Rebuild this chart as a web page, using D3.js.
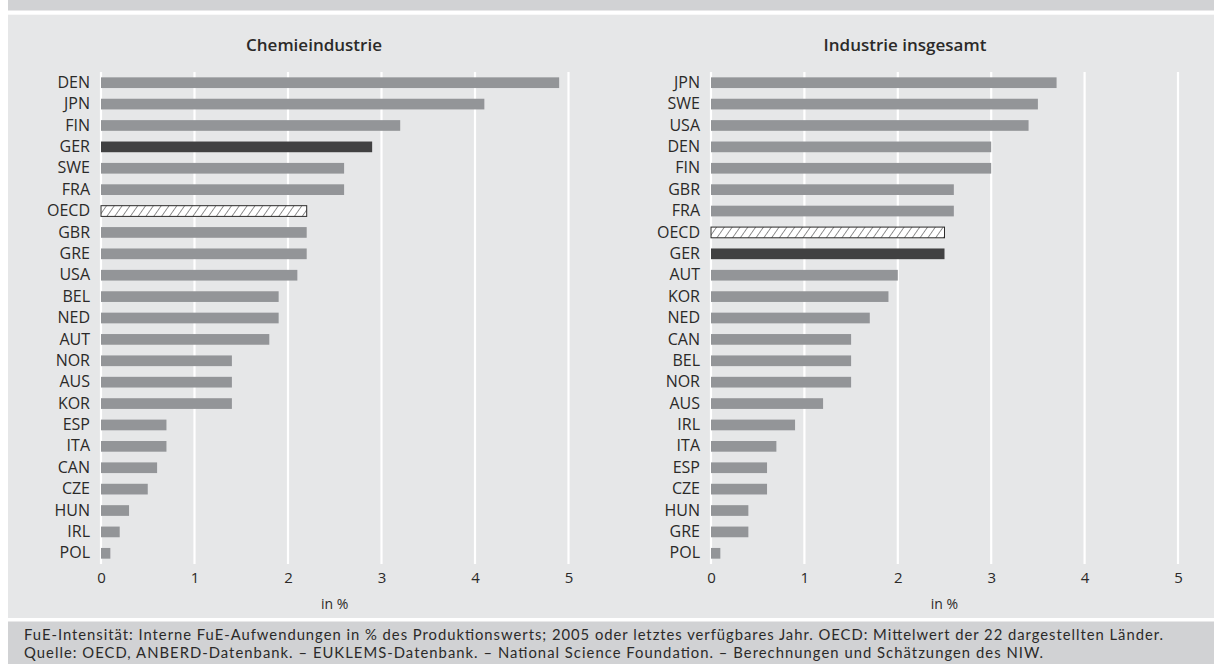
<!DOCTYPE html>
<html>
<head>
<meta charset="utf-8">
<script src="https://cdn.jsdelivr.net/npm/d3@7"></script>
<style>
  body { margin: 0; background: #fff; }
  svg { display: block; font-family: "Open Sans", sans-serif; }
</style>
</head>
<body>
<svg id="chart" width="1214" height="664"></svg>
<script>
const chemCountries = ["DEN", "JPN", "FIN", "GER", "SWE", "FRA", "OECD", "GBR", "GRE", "USA", "BEL", "NED",
  "AUT", "NOR", "AUS", "KOR", "ESP", "ITA", "CAN", "CZE", "HUN", "IRL", "POL"];
const chemValues = [4.9, 4.1, 3.2, 2.9, 2.6, 2.6, 2.2, 2.2, 2.2, 2.1, 1.9, 1.9,
  1.8, 1.4, 1.4, 1.4, 0.7, 0.7, 0.6, 0.5, 0.3, 0.2, 0.1];

const indCountries = ["JPN", "SWE", "USA", "DEN", "FIN", "GBR", "FRA", "OECD", "GER", "AUT", "KOR", "NED",
  "CAN", "BEL", "NOR", "AUS", "IRL", "ITA", "ESP", "CZE", "HUN", "GRE", "POL"];
const indValues = [3.7, 3.5, 3.4, 3.0, 3.0, 2.6, 2.6, 2.5, 2.5, 2.0, 1.9, 1.7,
  1.5, 1.5, 1.5, 1.2, 0.9, 0.7, 0.6, 0.6, 0.4, 0.4, 0.1];

const xTicks = [0, 1, 2, 3, 4, 5];
const titles = ["Chemieindustrie", "Industrie insgesamt"];
const axisTitle = "in %";
const footnotes = [
  "FuE-Intensität: Interne FuE-Aufwendungen in % des Produktionswerts; 2005 oder letztes verfügbares Jahr. OECD: Mittelwert der 22 dargestellten Länder.",
  "Quelle: OECD, ANBERD-Datenbank. – EUKLEMS-Datenbank. – National Science Foundation. – Berechnungen und Schätzungen des NIW."
];
const footWidths = [1139, 1019];

const svg = d3.select("#chart");
const textColor = "#2b2a29";

// background bands
svg.append("rect").attr("x", 8).attr("y", 0).attr("width", 1206).attr("height", 10.5).attr("fill", "#d1d2d4");
svg.append("rect").attr("x", 8).attr("y", 14.7).attr("width", 1206).attr("height", 603.3).attr("fill", "#e6e7e8");
svg.append("rect").attr("x", 8).attr("y", 621.5).attr("width", 1206).attr("height", 42.5).attr("fill", "#d1d2d4");

// hatch for OECD
const defs = svg.append("defs");
const pat = defs.append("pattern")
  .attr("id", "hatch")
  .attr("patternUnits", "userSpaceOnUse")
  .attr("width", 6.4).attr("height", 6.4)
  .attr("patternTransform", "rotate(35)");
pat.append("rect").attr("width", 6.4).attr("height", 6.4).attr("fill", "#fff");
pat.append("line").attr("x1", 0).attr("y1", 0).attr("x2", 0).attr("y2", 6.4)
  .attr("stroke", "#3a3a3a").attr("stroke-width", 1.1);

function panel(countries, values, title, x0, x1, titleX) {
  const g = svg.append("g");
  const x = d3.scaleLinear().domain([0, 5]).range([x0, x1]);
  const y = d3.scaleBand().domain(countries).range([72, 564]).paddingInner(0.5).paddingOuter(0.25);

  g.append("text")
    .attr("x", titleX).attr("y", 51)
    .attr("text-anchor", "middle")
    .attr("font-size", 17).attr("font-weight", 600)
    .attr("fill", textColor)
    .text(title);

  g.selectAll("line.grid")
    .data(xTicks)
    .enter().append("line")
    .attr("class", "grid")
    .attr("x1", d => x(d)).attr("x2", d => x(d))
    .attr("y1", 72).attr("y2", 564)
    .attr("stroke", "#fff").attr("stroke-width", 2.2);

  const data = countries.map((c, i) => ({ c, v: values[i] }));
  g.selectAll("rect.bar")
    .data(data)
    .enter().append("rect")
    .attr("class", "bar")
    .attr("x", x(0))
    .attr("y", d => y(d.c))
    .attr("width", d => x(d.v) - x(0))
    .attr("height", y.bandwidth())
    .attr("fill", d => d.c === "OECD" ? "url(#hatch)" : d.c === "GER" ? "#414142" : "#939598")
    .attr("stroke", d => d.c === "OECD" ? "#2b2a29" : "none")
    .attr("stroke-width", 1);

  const yAxis = g.append("g")
    .attr("transform", `translate(${x0},0)`)
    .call(d3.axisLeft(y).tickSize(0).tickPadding(11));
  yAxis.select(".domain").remove();
  yAxis.selectAll("text")
    .attr("font-family", "Open Sans, sans-serif")
    .attr("font-size", 16).attr("fill", textColor);

  const xAxis = g.append("g")
    .attr("transform", "translate(0,572)")
    .call(d3.axisBottom(x).tickValues(xTicks).tickFormat(d3.format("d")).tickSize(0).tickPadding(0));
  xAxis.select(".domain").remove();
  xAxis.selectAll("text")
    .attr("font-family", "Open Sans, sans-serif")
    .attr("font-size", 15).attr("fill", textColor);

  g.append("text")
    .attr("x", (x0 + x1) / 2).attr("y", 609)
    .attr("text-anchor", "middle")
    .attr("font-size", 14).attr("fill", textColor)
    .text(axisTitle);
}

panel(chemCountries, chemValues, titles[0], 101, 568.5, 314);
panel(indCountries, indValues, titles[1], 711, 1178, 905);

svg.selectAll("text.foot")
  .data(footnotes)
  .enter().append("text")
  .attr("class", "foot")
  .attr("x", 24)
  .attr("y", (d, i) => 640 + i * 18)
  .attr("font-family", "Lato, sans-serif")
  .attr("font-size", 14.8)
  .attr("textLength", (d, i) => footWidths[i])
  .attr("lengthAdjust", "spacing")
  .attr("fill", textColor)
  .text(d => d);
</script>
</body>
</html>
